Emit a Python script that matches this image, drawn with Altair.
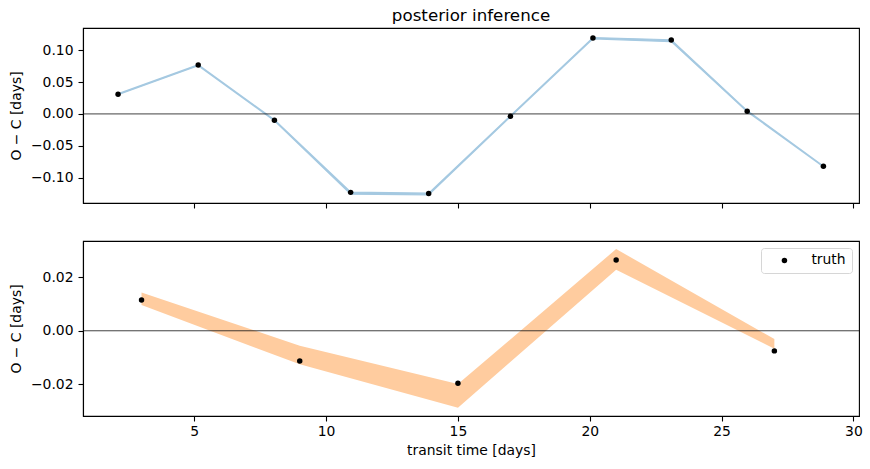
import altair as alt
import pandas as pd

# ---- data ----
top_x = [2.11, 5.15, 8.04, 10.93, 13.89, 16.99, 20.12, 23.09, 25.97, 28.86]
top_truth = [0.0310, 0.0767, -0.0099, -0.1233, -0.1249, -0.0036, 0.1192, 0.1161, 0.0042, -0.0824]
top_lo = [0.0302, 0.0757, -0.0108, -0.1262, -0.1272, -0.0045, 0.1180, 0.1135, 0.0035, -0.0832]
top_hi = [0.0318, 0.0772, -0.0092, -0.1228, -0.1245, -0.0027, 0.1200, 0.1165, 0.0052, -0.0818]

bot_x = [3.0, 9.0, 15.0, 21.0, 27.0]
bot_truth = [0.0115, -0.0113, -0.0196, 0.0264, -0.0075]
bot_lo = [0.0096, -0.0125, -0.0287, 0.0228, -0.0067]
bot_hi = [0.0143, -0.0056, -0.0199, 0.0305, -0.0031]

x_ticks = [5, 10, 15, 20, 25, 30]
top_yticks = [-0.10, -0.05, 0.0, 0.05, 0.10]
bot_yticks = [-0.02, 0.0, 0.02]

x_domain = [0.78, 30.21]
top_domain = [-0.140, 0.135]
bot_domain = [-0.0318, 0.0335]

FONT = "DejaVu Sans"
BLUE = "#a5c9e1"
ORANGE = "#ffcc9f"

top_df = pd.DataFrame({"x": top_x, "truth": top_truth, "lo": top_lo, "hi": top_hi})
bot_df = pd.DataFrame({"x": bot_x, "truth": bot_truth, "lo": bot_lo, "hi": bot_hi,
                       "label": ["truth"] * len(bot_x)})

W, H = 776, 175

def xenc(show_labels):
    return alt.X(
        "x:Q",
        scale=alt.Scale(domain=x_domain, nice=False, zero=False),
        axis=alt.Axis(
            values=x_ticks,
            labels=show_labels,
            title="transit time [days]" if show_labels else None,
            format="d",
            labelPadding=3.5,
            titlePadding=5,
        ),
    )

def yaxis(ticks):
    return alt.Axis(values=ticks, format=".2f", title="O − C [days]",
                    labelPadding=5, titlePadding=7)

zero_rule_data = pd.DataFrame({"y": [0.0]})

# ---- top panel ----
top_band = alt.Chart(top_df).mark_area(color=BLUE, stroke=BLUE, strokeWidth=1.2, opacity=1).encode(
    x=xenc(False),
    y=alt.Y("lo:Q", scale=alt.Scale(domain=top_domain, nice=False, zero=False), axis=yaxis(top_yticks)),
    y2="hi:Q",
)
top_zero = alt.Chart(zero_rule_data).mark_rule(color="#111111", strokeWidth=0.8).encode(y="y:Q")
top_pts = alt.Chart(top_df).mark_point(filled=True, color="black", size=30, opacity=1).encode(
    x="x:Q", y="truth:Q"
)
top = alt.layer(top_band, top_zero, top_pts).properties(
    width=W, height=H,
    title=alt.TitleParams("posterior inference", font=FONT, fontSize=16.7,
                          fontWeight="normal", offset=3, color="black"),
)

# ---- bottom panel ----
bot_band = alt.Chart(bot_df).mark_area(color=ORANGE, opacity=1).encode(
    x=xenc(True),
    y=alt.Y("lo:Q", scale=alt.Scale(domain=bot_domain, nice=False, zero=False), axis=yaxis(bot_yticks)),
    y2="hi:Q",
)
bot_zero = alt.Chart(zero_rule_data).mark_rule(color="#111111", strokeWidth=0.8).encode(y="y:Q")
bot_pts = alt.Chart(bot_df).mark_point(filled=True, color="black", size=30, opacity=1).encode(
    x="x:Q", y="truth:Q",
    shape=alt.Shape(
        "label:N",
        scale=alt.Scale(range=["circle"]),
        legend=alt.Legend(
            title=None, orient="top-right", offset=7,
            fillColor="white", strokeColor="#d6d6d6", cornerRadius=3, padding=5.5,
            labelFont=FONT, labelFontSize=13.9, labelColor="black",
            symbolFillColor="black", symbolStrokeWidth=0, symbolSize=30,
            symbolOffset=11, labelOffset=20,
        ),
    ),
)
bot = alt.layer(bot_band, bot_zero, bot_pts).properties(width=W, height=H)

chart = alt.vconcat(top, bot, spacing=30).resolve_legend(
    shape="independent"
).resolve_scale(shape="independent").properties(
    padding={"left": 8, "top": 7, "right": 5, "bottom": 5},
    background="white",
).configure_view(
    stroke="black", strokeWidth=1.1
).configure_axis(
    grid=False,
    domainColor="black", domainWidth=1.1,
    tickColor="black", tickWidth=1.1, tickSize=5,
    labelFont=FONT, labelFontSize=13.9, labelColor="black",
    titleFont=FONT, titleFontSize=13.9, titleFontWeight="normal", titleColor="black",
)

chart.save("out.html", embed_options={"renderer": "svg", "actions": False})
